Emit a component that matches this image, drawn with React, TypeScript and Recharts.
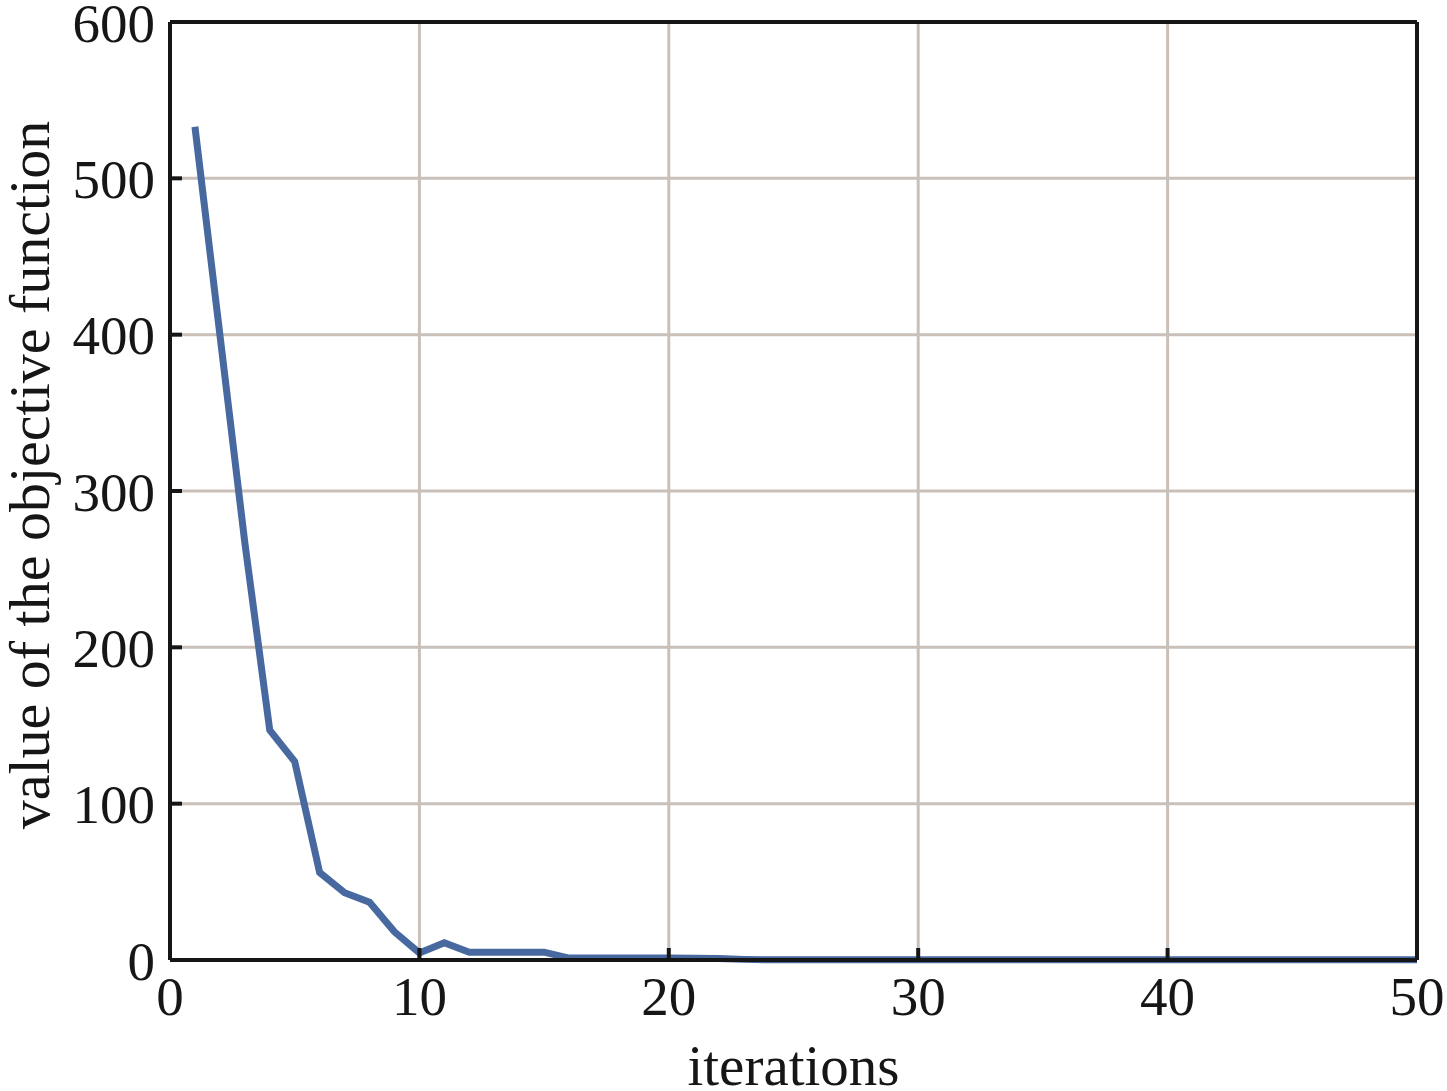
import React from "react";
import { LineChart, Line, XAxis, YAxis, CartesianGrid, Label } from "recharts";

// iteration numbers and objective value
const iterations = Array.from({ length: 50 }, (_, i) => i + 1);
const objective = [
  533, 400, 267, 147, 127, 56, 43, 37, 18, 4.5,
  11, 5, 5, 5, 5, 1.2, 1.2, 1.2, 1.2, 1.2,
  1.1, 1, 0.4, 0.1, 0.1, 0.1, 0.1, 0.1, 0.1, 0.1,
  0.1, 0.1, 0.1, 0.1, 0.1, 0.1, 0.1, 0.1, 0.1, 0.1,
  0.1, 0.1, 0.1, 0.1, 0.1, 0.1, 0.1, 0.1, 0.1, 0.1,
];
const xTicks = [0, 10, 20, 30, 40, 50];
const yTicks = [0, 100, 200, 300, 400, 500, 600];

const data = iterations.map((x, i) => ({ x, value: objective[i] }));

const FONT = "'Liberation Serif', 'Times New Roman', serif";
const AXIS = "#161616";
const GRID = "#c9c0b9";

const tickStyle = { fontFamily: FONT, fontSize: 55, fill: "#161616" };

const YLabel = (props: any) => {
  const vb = props.viewBox;
  const cx = vb.x + 29;
  const cy = 475;
  return (
    <text
      x={cx}
      y={cy}
      transform={`rotate(-90, ${cx}, ${cy})`}
      textAnchor="middle"
      dominantBaseline="central"
      fontFamily={FONT}
      fontSize={58}
      fill="#161616"
    >
      value of the objective function
    </text>
  );
};

const App: React.FC = () => {
  return (
    <div style={{ position: "absolute", left: 0, top: 0, width: 1447, height: 1091, background: "#fff" }}>
      <LineChart width={1447} height={1091} data={data} margin={{ top: 21, right: 29, left: 0, bottom: 0 }}>
        <CartesianGrid stroke={GRID} strokeWidth={3} xAxisId="bottom" yAxisId="left" />
        <XAxis
          xAxisId="bottom"
          dataKey="x"
          type="number"
          domain={[0, 50]}
          ticks={xTicks}
          height={131}
          tickSize={-12}
          tickMargin={28}
          stroke={AXIS}
          strokeWidth={4}
          tick={tickStyle}
          interval={0}
        >
          <Label
            value="iterations"
            position="insideBottom"
            offset={6}
            style={{ fontFamily: FONT, fontSize: 57, fill: "#161616" }}
          />
        </XAxis>
        <XAxis
          xAxisId="top"
          orientation="top"
          dataKey="x"
          type="number"
          domain={[0, 50]}
          ticks={xTicks}
          height={1}
          tickSize={-12}
          stroke={AXIS}
          strokeWidth={4}
          tick={false}
          interval={0}
        />
        <YAxis
          yAxisId="left"
          type="number"
          domain={[0, 600]}
          ticks={yTicks}
          width={170}
          tickSize={-12}
          tickMargin={27}
          stroke={AXIS}
          strokeWidth={4}
          tick={tickStyle}
          interval={0}
        >
          <Label content={YLabel} />
        </YAxis>
        <YAxis
          yAxisId="right"
          orientation="right"
          type="number"
          domain={[0, 600]}
          ticks={yTicks}
          width={1}
          tickSize={-12}
          stroke={AXIS}
          strokeWidth={4}
          tick={false}
          interval={0}
        />
        {/* invisible copy so the top/right frame axes get rendered */}
        <Line
          xAxisId="top"
          yAxisId="right"
          dataKey="value"
          stroke="none"
          dot={false}
          activeDot={false}
          legendType="none"
          isAnimationActive={false}
        />
        <Line
          xAxisId="bottom"
          yAxisId="left"
          type="linear"
          dataKey="value"
          stroke="#4868a0"
          strokeWidth={7}
          dot={false}
          isAnimationActive={false}
        />
      </LineChart>
    </div>
  );
};

export default App;
